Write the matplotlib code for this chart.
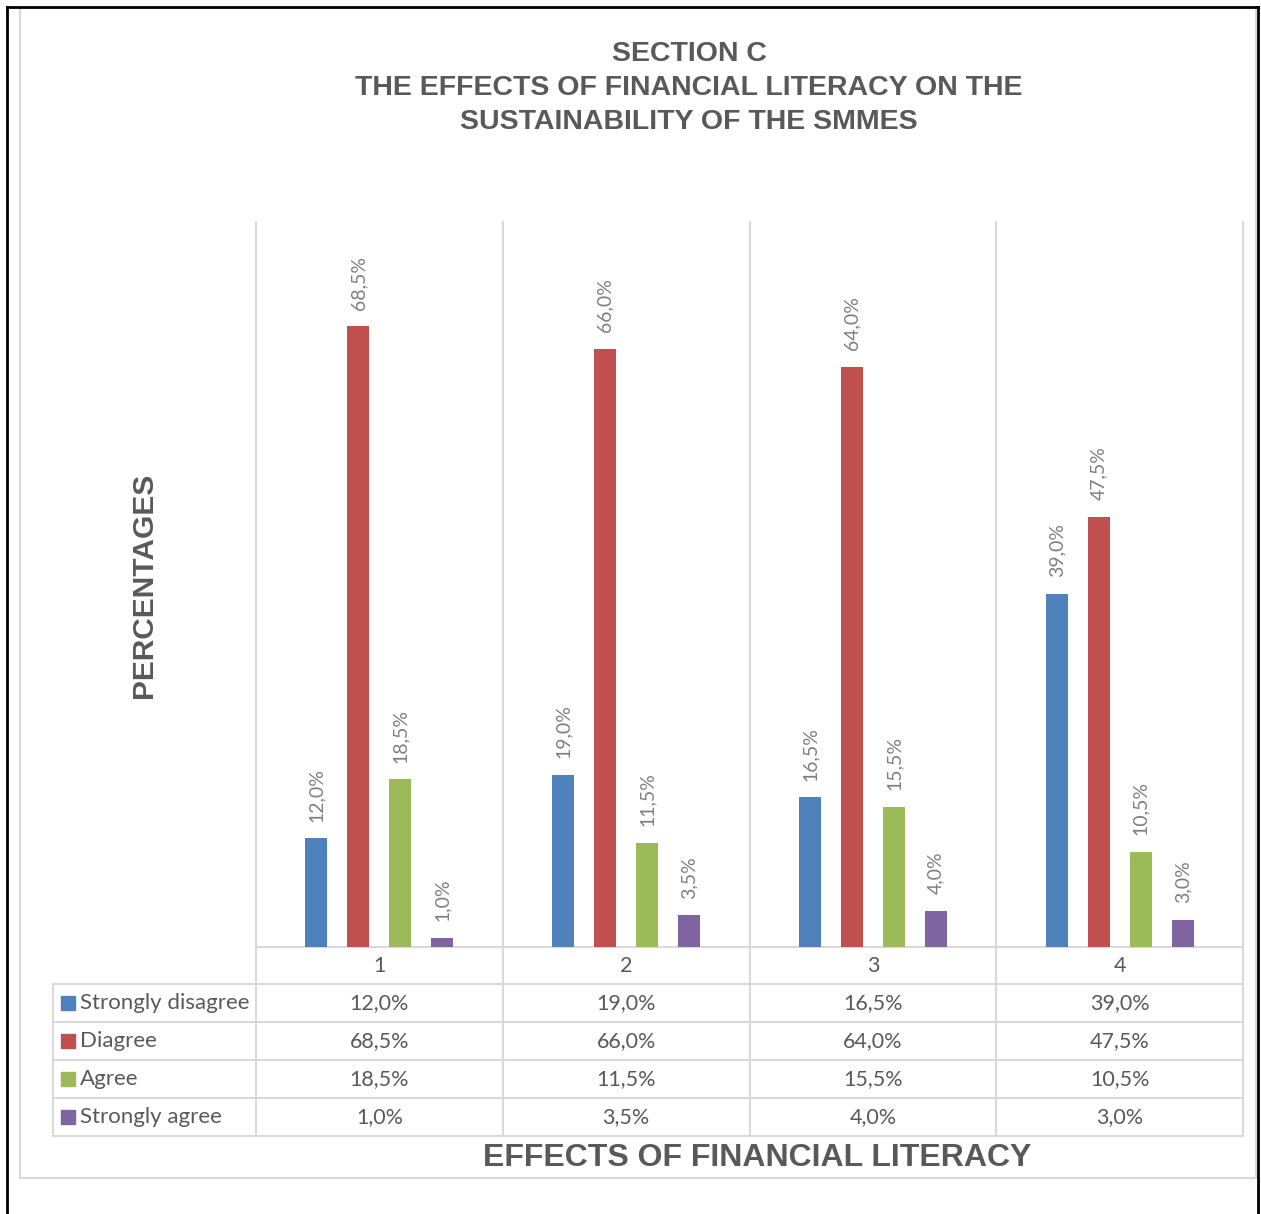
import matplotlib
matplotlib.use('Agg')
import matplotlib.pyplot as plt
from matplotlib.patches import Rectangle
from matplotlib.lines import Line2D
import numpy as np

# data
categories = ['1', '2', '3', '4']
series_names = ['Strongly disagree', 'Diagree', 'Agree', 'Strongly agree']
strongly_disagree = [12.0, 19.0, 16.5, 39.0]
diagree = [68.5, 66.0, 64.0, 47.5]
agree = [18.5, 11.5, 15.5, 10.5]
strongly_agree = [1.0, 3.5, 4.0, 3.0]
colors = ['#4F81BD', '#C0504D', '#9BBB59', '#8064A2']

title = 'SECTION C\nTHE EFFECTS OF FINANCIAL LITERACY ON THE\nSUSTAINABILITY OF THE SMMES'
ylabel = 'PERCENTAGES'
xlabel = 'EFFECTS OF FINANCIAL LITERACY'

def pct(v):
    return ('%.1f%%' % v).replace('.', ',')

series = [strongly_disagree, diagree, agree, strongly_agree]

W, H = 1261, 1214
fig = plt.figure(figsize=(W / 100, H / 100), dpi=100)
text_col = '#595959'
grid_col = '#D9D9D9'
body_font = 'Lato'
head_font = 'Liberation Sans'

# overlay in pixel coords for frames / table
ov = fig.add_axes([0, 0, 1, 1])
ov.set_xlim(0, W)
ov.set_ylim(H, 0)
ov.axis('off')

# outer black frame and inner grey chart border
ov.add_line(Line2D([7, 7], [7, H], color='black', lw=2))
ov.add_line(Line2D([7, 1258], [7, 7], color='black', lw=2))
ov.add_line(Line2D([1258, 1258], [7, H], color='black', lw=2))
ov.add_patch(Rectangle((20, 8), 1236, 1170, fill=False, ec=grid_col, lw=1.5))

# plot area
px_left, px_right, px_top, px_base = 256, 1243, 222, 947
ax = fig.add_axes([px_left / W, 1 - px_base / H, (px_right - px_left) / W, (px_base - px_top) / H])
x = np.arange(len(categories))
width = 0.089
offsets = [-0.255, -0.085, 0.085, 0.255]
for vals, off, c in zip(series, offsets, colors):
    bars = ax.bar(x + off, vals, width, color=c, zorder=3)
    for b, v in zip(bars, vals):
        ax.annotate(pct(v), (b.get_x() + b.get_width() / 2, v), xytext=(0, 12),
                    textcoords='offset points', rotation=90, ha='center', va='bottom',
                    fontsize=14, color='#7F7F7F', family=body_font)
ax.set_xlim(-0.5, len(categories) - 0.5)
ax.set_ylim(0, 80)
ax.axis('off')

# table grid
col_w = (px_right - px_left) / len(categories)
col_edges = [px_left + i * col_w for i in range(len(categories) + 1)]
row_edges = [984, 1022, 1060, 1098, 1136]
tbl_left = 53
ov.add_line(Line2D([px_left, px_right], [px_base, px_base], color=grid_col, lw=1.5))
for ry in row_edges:
    ov.add_line(Line2D([tbl_left, px_right], [ry, ry], color=grid_col, lw=1.5))
ov.add_line(Line2D([tbl_left, tbl_left], [row_edges[0], row_edges[-1]], color=grid_col, lw=1.5))
for cx in col_edges:
    ov.add_line(Line2D([cx, cx], [px_top, row_edges[-1]], color=grid_col, lw=1.5))

# category row
for i, cat in enumerate(categories):
    ov.text((col_edges[i] + col_edges[i + 1]) / 2, (px_base + row_edges[0]) / 2 + 1, cat,
            ha='center', va='center', fontsize=15.5, color=text_col, family=body_font)

# data rows
for r, (name, vals, c) in enumerate(zip(series_names, series, colors)):
    yc = (row_edges[r] + row_edges[r + 1]) / 2
    ov.add_patch(Rectangle((61, yc - 7), 14, 14, color=c))
    ov.text(80, yc, name, ha='left', va='center', fontsize=16, color=text_col, family=body_font)
    for i, v in enumerate(vals):
        ov.text((col_edges[i] + col_edges[i + 1]) / 2, yc, pct(v), ha='center', va='center',
                fontsize=15.5, color=text_col, family=body_font)

# titles
ov.text(689, 88, title, ha='center', va='center', fontsize=20.5, fontweight='bold',
        color=text_col, family=head_font, linespacing=1.4)
ov.text(144, 585, ylabel, ha='center', va='center', rotation=90, fontsize=21.5,
        fontweight='bold', color=text_col, family=head_font)
ov.text(757, 1158, xlabel, ha='center', va='center', fontsize=23, fontweight='bold',
        color=text_col, family=head_font)

fig.savefig('out.png', dpi=100, facecolor='white')
